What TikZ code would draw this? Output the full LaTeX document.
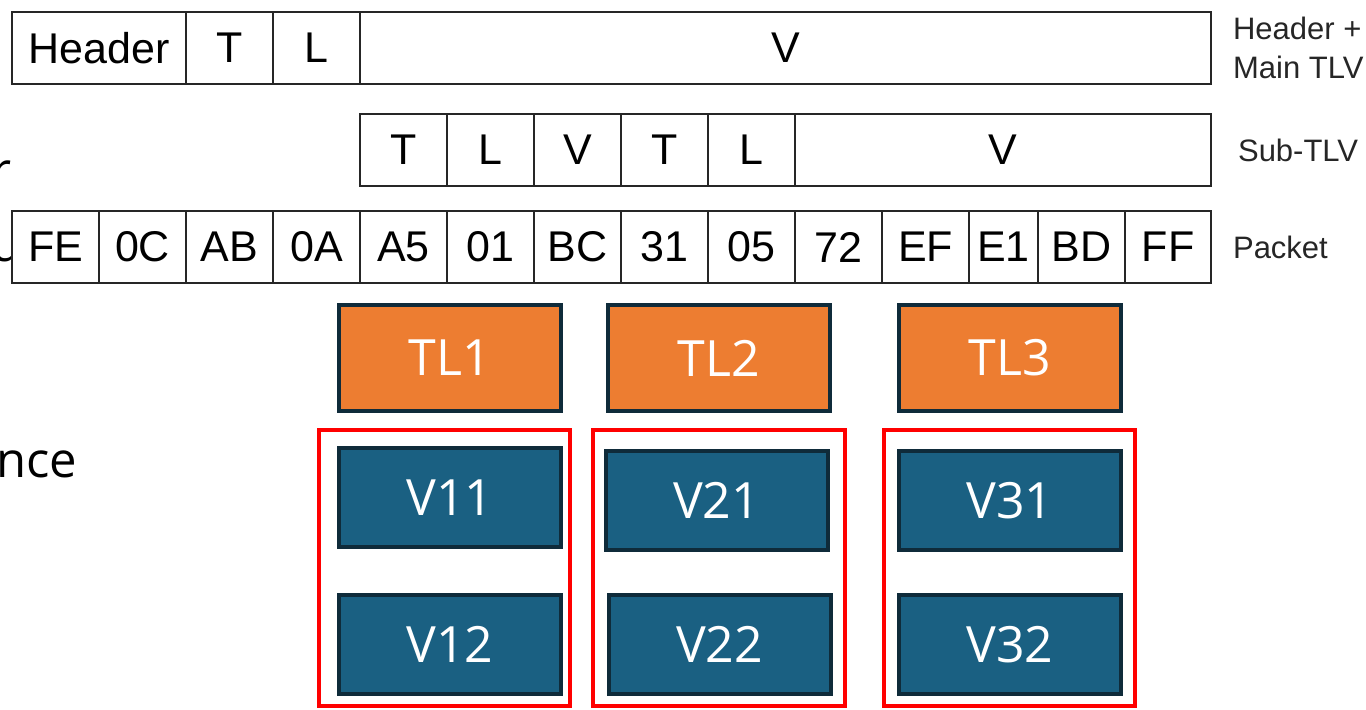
\documentclass[tikz,border=0pt]{standalone}
\usepackage{fontspec}
\setmainfont{Liberation Sans}
\newfontfamily\slidefont{Open Sans}
\usetikzlibrary{positioning}

\definecolor{tlorange}{HTML}{ED7D31}
\definecolor{valblue}{HTML}{1A6082}
\definecolor{edgenavy}{HTML}{0F2B3A}

\begin{document}
\begin{tikzpicture}[
  x=0.5pt, y=-0.5pt,
  node distance=0pt,
  cell/.style={draw=black!85, line width=1pt, fill=white, inner sep=0pt, outer sep=0pt,
    minimum width=43.5pt, minimum height=36pt, font=\fontsize{21.5}{21.5}\selectfont},
  rowlabel/.style={align=left, text=black!85, font=\fontsize{15.5}{19.5}\selectfont},
  tlbox/.style={draw=edgenavy, line width=2pt, fill=tlorange, text=white, inner sep=0pt,
    minimum width=111pt, minimum height=53pt, font=\slidefont\fontsize{25}{25}\selectfont},
  valbox/.style={tlbox, fill=valblue, minimum height=49.5pt},
  group/.style={draw=red, line width=2pt},
  cut/.style={anchor=base west, inner sep=0pt, font=\slidefont\fontsize{24.5}{24.5}\selectfont}
]
\useasboundingbox (0,0) rectangle (1366,710);

% words running in from the left margin
\node[cut] (w1) at (-9,188) {r};
\node[cut] (w2) at (-9,262) {u};
\node[cut] (w3) at (-4,478) {nce};

% header + main TLV
\node[cell, minimum width=87pt, anchor=north west] (hdr) at (12,12) {Header};
\node[cell, right=of hdr] (mt) {T};
\node[cell, right=of mt] (ml) {L};
\node[cell, minimum width=425.5pt, right=of ml] (mv) {V};
\node[rowlabel, right=7.5pt of mv] (lmain) {Header +\\Main TLV};

% sub-TLV
\node[cell, anchor=north west] (st1) at ([yshift=-15pt]ml.south east) {T};
\node[cell, right=of st1] (sl1) {L};
\node[cell, right=of sl1] (sv1) {V};
\node[cell, right=of sv1] (st2) {T};
\node[cell, right=of st2] (sl2) {L};
\node[cell, minimum width=208pt, right=of sl2] (sv2) {V};
\node[rowlabel, right=10pt of sv2] (lsub) {Sub-TLV};

% packet bytes
\coordinate (p0) at (12,247);
\foreach \b/\w [count=\i] in {FE/43.5pt, 0C/43.5pt, AB/43.5pt, 0A/43.5pt, A5/43.5pt,
    01/43.5pt, BC/43.5pt, 31/43.5pt, 05/43.5pt, 72/43.5pt, EF/43.5pt, E1/34.5pt,
    BD/43.5pt, FF/43pt}{
  \pgfmathtruncatemacro\j{\i-1}
  \node[cell, minimum width=\w, right=of p\j] (p\i) {\b};
}
\node[rowlabel, right=7.5pt of p14] (lpkt) {Packet};

% type/length pairs
\node[tlbox] (tl1) at (450,358) {TL1};
\node[tlbox] (tl2) at (719,358) {TL2};
\node[tlbox] (tl3) at (1010,358) {TL3};

% values of each pair
\node[valbox] (v11) at (450,498) {V11};
\node[valbox] (v12) at (450,644.5) {V12};
\node[valbox] (v21) at (716.5,500.5) {V21};
\node[valbox] (v22) at (719.5,644.5) {V22};
\node[valbox] (v31) at (1010,500.5) {V31};
\node[valbox] (v32) at (1010,644.5) {V32};

\draw[group] (319,430) rectangle (570,706);
\draw[group] (593,430) rectangle (845,706);
\draw[group] (884,430) rectangle (1135,706);
\end{tikzpicture}
\end{document}
